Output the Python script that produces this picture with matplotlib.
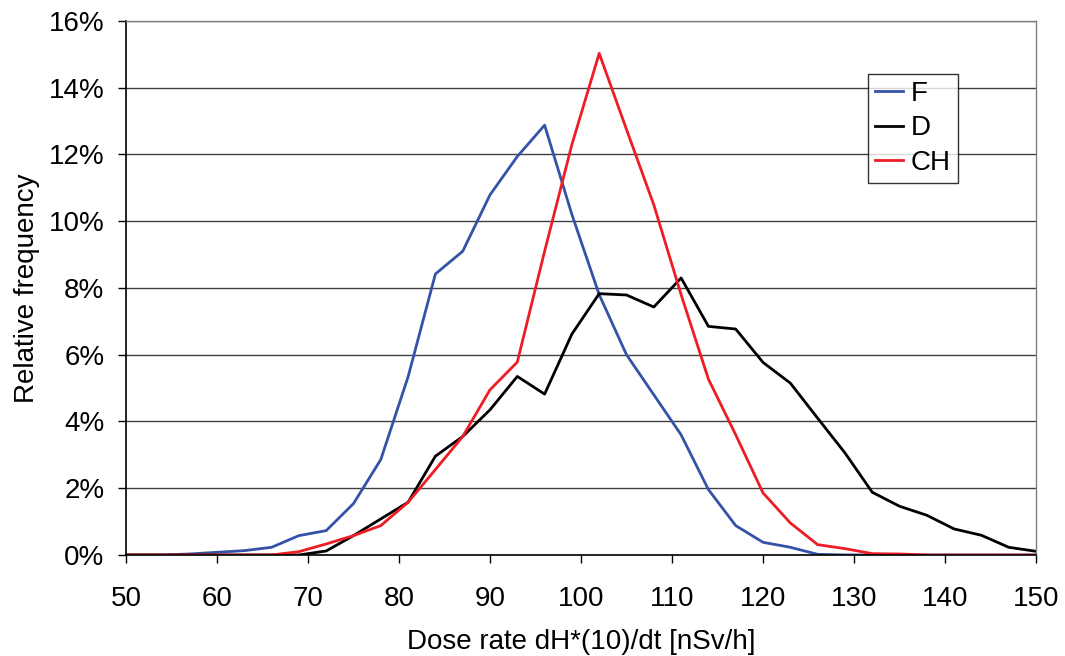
import matplotlib
matplotlib.use("Agg")
import matplotlib.pyplot as plt
from matplotlib.ticker import FuncFormatter

plt.rcParams['font.family'] = ['Liberation Sans', 'DejaVu Sans']

# dose rate bins (nSv/h)
dose = [48, 51, 54, 57, 60, 63, 66, 69, 72, 75, 78, 81, 84, 87, 90, 93, 96, 99,
        102, 105, 108, 111, 114, 117, 120, 123, 126, 129, 132, 135, 138, 141,
        144, 147, 150]

# relative frequency in %
freq_f = [0, 0, 0, 0.03, 0.08, 0.13, 0.23, 0.58, 0.73, 1.54, 2.86, 5.34, 8.42,
          9.10, 10.79, 11.94, 12.88, 10.2, 7.8, 6.0, 4.8, 3.6, 1.96, 0.88, 0.38,
          0.23, 0.02, 0, 0, 0, 0, 0, 0, 0, 0]
freq_d = [0, 0, 0, 0, 0, 0, 0, 0, 0.12, 0.58, 1.08, 1.58, 2.96, 3.55, 4.35,
          5.35, 4.82, 6.62, 7.83, 7.79, 7.43, 8.30, 6.85, 6.77, 5.77, 5.15,
          4.10, 3.06, 1.88, 1.46, 1.19, 0.78, 0.59, 0.23, 0.11]
freq_ch = [0, 0, 0, 0, 0, 0, 0, 0.1, 0.33, 0.58, 0.88, 1.58, 2.56, 3.55, 4.95,
           5.78, 9.1, 12.3, 15.03, 12.75, 10.49, 7.8, 5.27, 3.6, 1.86, 0.96,
           0.31, 0.19, 0.04, 0.03, 0, 0, 0, 0, 0]

fig = plt.figure(figsize=(10.65, 6.56), dpi=100)
ax = fig.add_axes([0.1183, 0.154, 0.9728 - 0.1183, 0.968 - 0.154])

ax.plot(dose, freq_f, color='#3352A8', lw=2.0, label='F')
ax.plot(dose, freq_d, color='black', lw=2.0, label='D')
ax.plot(dose, freq_ch, color='#EE1C25', lw=2.0, label='CH')

ax.set_xlim(50, 150)
ax.set_ylim(0, 16)
ax.set_xticks(range(50, 151, 10))
ax.set_yticks(range(0, 17, 2))
ax.yaxis.set_major_formatter(FuncFormatter(lambda v, p: f"{v:.0f}%"))
ax.yaxis.grid(True, color='#404040', lw=1.0)
ax.set_axisbelow(True)

for s in ['top', 'right']:
    ax.spines[s].set_color('#808080')
    ax.spines[s].set_linewidth(1.0)
for s in ['left', 'bottom']:
    ax.spines[s].set_color('black')
    ax.spines[s].set_linewidth(1.2)

ax.tick_params(axis='both', labelsize=20, length=5.5, width=1, direction='out')
ax.tick_params(axis='x', pad=17)
ax.tick_params(axis='y', pad=10)

ax.set_xlabel('Dose rate dH*(10)/dt [nSv/h]', fontsize=20, labelpad=12)
ax.set_ylabel('Relative frequency', fontsize=20, labelpad=6)

leg = ax.legend(loc='upper left', bbox_to_anchor=(0.8154, 0.9007), fontsize=20,
                frameon=True, fancybox=False, handlelength=1.0,
                handletextpad=0.3, borderpad=0.25, labelspacing=0.3,
                borderaxespad=0)
leg.get_frame().set_edgecolor('black')
leg.get_frame().set_linewidth(1.0)

fig.savefig('out.png', dpi=100)
